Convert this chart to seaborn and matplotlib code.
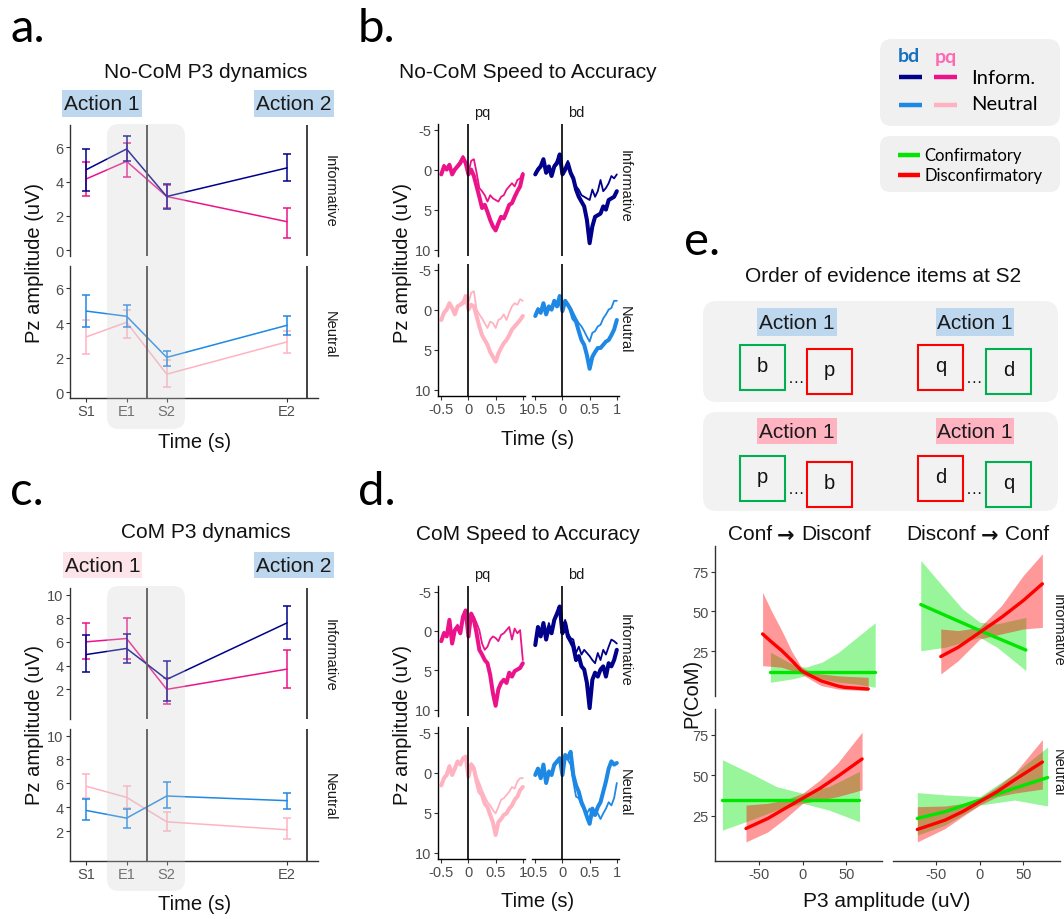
import numpy as np
import matplotlib
matplotlib.use("Agg")
import matplotlib.pyplot as plt
import seaborn as sns
from matplotlib.patches import FancyBboxPatch, Rectangle

sns.set_style("ticks")
plt.rcParams['font.family'] = ['Liberation Sans', 'DejaVu Sans']
plt.rcParams['axes.unicode_minus'] = False
CAL = ['Lato', 'DejaVu Sans']

# ---------------- data ----------------
stage_x = [0, 1, 2, 5]
stage_labels = ['S1', 'E1', 'S2', 'E2']

# a. No-CoM P3 dynamics (mean, lower, upper)
a_inf_bd = [4.70, 5.90, 3.13, 4.80]; a_inf_bd_lo = [3.48, 5.18, 2.38, 4.06]; a_inf_bd_hi = [5.90, 6.63, 3.85, 5.60]
a_inf_pq = [4.16, 5.18, 3.13, 1.66]; a_inf_pq_lo = [3.15, 4.26, 2.46, 0.73]; a_inf_pq_hi = [5.14, 6.25, 3.81, 2.48]
a_neu_bd = [4.69, 4.39, 2.01, 3.87]; a_neu_bd_lo = [3.75, 3.75, 1.52, 3.28]; a_neu_bd_hi = [5.63, 5.04, 2.38, 4.43]
a_neu_pq = [3.20, 4.04, 1.04, 2.91]; a_neu_pq_lo = [2.20, 3.12, 0.29, 2.29]; a_neu_pq_hi = [4.20, 4.75, 1.85, 3.55]

# c. CoM P3 dynamics
c_inf_bd = [4.94, 5.45, 2.84, 7.61]; c_inf_bd_lo = [3.46, 4.21, 1.00, 6.29]; c_inf_bd_hi = [6.57, 6.66, 4.38, 9.07]
c_inf_pq = [6.01, 6.29, 2.00, 3.71]; c_inf_pq_lo = [4.52, 4.52, 0.79, 2.11]; c_inf_pq_hi = [7.58, 8.00, 3.00, 5.31]
c_neu_bd = [3.73, 3.09, 4.94, 4.55]; c_neu_bd_lo = [2.92, 2.25, 3.90, 3.85]; c_neu_bd_hi = [4.66, 3.85, 6.08, 5.16]
c_neu_pq = [5.75, 4.83, 2.78, 2.11]; c_neu_pq_lo = [4.77, 3.90, 2.00, 1.33]; c_neu_pq_hi = [6.78, 5.75, 3.60, 3.06]

# b./d. ERP traces (time in s, amplitude in uV)
T = [-0.5, -0.45, -0.4, -0.35, -0.3, -0.25, -0.2, -0.15, -0.1, -0.05, 0.0, 0.05, 0.1, 0.15, 0.2,
     0.25, 0.3, 0.35, 0.4, 0.45, 0.5, 0.55, 0.6, 0.65, 0.7, 0.75, 0.8, 0.85, 0.9, 0.95, 1.0]

b_inf_pq_thick = [0.6, -0.4, 0, -0.6, 0.6, 0, -0.4, -0.8, -1.5, -0.8, 0.6, 0, 0.8, 2.1, 3.4, 4.8, 4.4, 5.3, 6.3, 7.1, 7.6, 6.7, 5.9, 6.1, 5.3, 4.4, 4.2, 3.4, 2.7, 2.1, 0.6]
b_inf_pq_thin = [0.4, -0.6, -0.2, -0.4, 0.4, -0.2, -0.6, -1.1, -1.7, -0.6, 0.4, -1.1, -1.3, 0.4, 2.3, 2.7, 3.2, 4.0, 3.2, 3.6, 3.8, 4.0, 3.4, 3.2, 2.5, 2.1, 1.7, 2.1, 1.3, 1.1, 0.4]
b_inf_bd_thick = [0.6, 0, -0.4, -1.3, 0.4, -0.4, 0.8, -0.4, -0.8, -1.9, 0.6, 0, -0.8, 0.4, 1.1, 2.5, 3.4, 4.0, 4.6, 6.3, 9.2, 7.1, 5.9, 5.7, 5.5, 4.6, 5.0, 3.8, 3.6, 3.4, 2.7]
b_inf_bd_thin = [0.4, -0.2, -0.6, -1.1, 0.2, -0.2, 0.6, -0.6, -1.1, -1.7, 0.4, -0.2, -1.1, 0.6, 1.3, 2.1, 2.5, 3.2, 3.4, 3.6, 3.8, 2.5, 3.4, 2.7, 1.3, 2.7, 2.3, 1.7, 0.8, 1.1, 0.6]
b_neu_pq_thick = [1.3, 0.4, 0, -0.8, -0.2, 0.6, -0.4, -0.6, -0.8, -1.7, 0, -0.6, -0.4, 0.8, 2.1, 3.2, 3.8, 4.4, 5.3, 5.9, 6.5, 5.5, 4.8, 4.2, 3.8, 3.2, 2.5, 2.1, 1.7, 1.3, 0.8]
b_neu_pq_thin = [1.1, 0.2, -0.2, -0.6, -0.4, 0.4, -0.2, -0.8, -1.1, -1.5, -0.8, -2.1, -2.3, 0, 0.6, 1.1, 1.7, 2.3, 1.5, 1.7, 2.3, 1.3, 1.1, 0.6, 1.3, 0.4, -0.4, -0.8, -0.6, -1.3, -1.1]
b_neu_bd_thick = [0.8, 0, 0.4, -0.8, 0.6, -0.4, 0, -1.1, -0.4, -1.7, 0.2, -1.1, -0.6, 0, 1.1, 1.5, 2.7, 3.8, 4.4, 5.7, 7.4, 5.9, 5.3, 4.8, 4.8, 4.4, 4.0, 3.8, 3.2, 2.5, 1.3]
b_neu_bd_thin = [0.6, -0.2, 0.2, -0.6, 0.4, -0.2, -0.2, -0.8, -0.6, -1.5, 0, -0.8, -0.4, -0.2, 0.4, 1.1, 1.7, 2.1, 2.7, 3.4, 4.0, 2.9, 2.7, 2.1, 1.9, 1.1, 0.6, 0, -0.2, -1.1, -1.1]

d_inf_pq_thick = [1.3, 0.3, 0.7, -1.4, 1.6, -0.1, -0.5, 0.3, -1.8, -2.6, 0.7, -2.2, -1.4, 0.3, 2.4, 3.0, 3.7, 4.1, 5.6, 7.9, 9.5, 7.4, 6.6, 6.2, 6.6, 5.3, 5.8, 5.1, 4.9, 4.7, 4.1]
d_inf_pq_thin = [1.1, 0.1, 0.5, -1.2, 1.3, -0.3, -0.8, 0.1, -1.6, -2.4, 0.3, -2.0, -1.8, -1.0, -0.1, 1.6, 2.4, 2.0, 1.1, 0.7, 0.9, 1.3, 0.5, 0.3, -0.1, -0.5, 1.1, -0.3, 0.3, -0.1, 3.7]
d_inf_bd_thick = [1.8, -0.5, 0.7, -1.0, 1.1, -0.5, 0.3, -1.4, -2.2, -3.1, 0.3, -1.0, 0.7, 1.3, 2.0, 3.7, 3.2, 4.5, 4.9, 6.6, 9.8, 6.2, 5.3, 5.8, 4.9, 4.5, 5.8, 4.1, 4.5, 3.7, 2.4]
d_inf_bd_thin = [1.6, -0.1, 0.3, -0.8, 0.9, -1.0, 0.1, -1.2, -2.0, -2.6, -0.1, -1.4, 0.3, 0.9, 1.1, 2.8, 2.0, 3.0, 2.4, 2.8, 3.2, 3.7, 4.1, 2.8, 3.7, 2.4, 3.0, 2.0, 1.1, 1.3, 1.6]
d_neu_pq_thick = [1.6, 0.7, 0.3, -0.8, 0.3, -0.5, -1.4, -1.0, -1.8, -2.0, 0.5, -1.0, -0.5, 1.1, 2.4, 2.8, 3.9, 4.3, 5.3, 6.2, 7.8, 6.2, 5.8, 5.3, 5.1, 4.5, 4.1, 3.4, 3.0, 2.2, 1.8]
d_neu_pq_thin = [1.3, 0.5, 0.1, -0.5, 0.1, -0.8, -1.2, -1.2, -1.6, -1.8, 0.3, -1.2, -0.8, 0.5, 1.3, 2.2, 3.0, 3.7, 4.1, 4.7, 5.1, 4.3, 3.4, 3.2, 2.8, 2.4, 1.8, 2.0, 1.1, 0.7, 0.7]
d_neu_bd_thick = [0.3, -0.5, 0.7, -1.0, 1.3, -0.1, 0.3, -1.0, -1.4, -1.8, 0.3, -2.2, -1.8, -2.6, 0.3, 1.6, 2.4, 3.7, 4.5, 5.5, 6.4, 4.5, 5.3, 4.3, 3.7, 2.4, 1.1, -0.5, -1.4, -1.0, -1.2]
d_neu_bd_thin = [0.1, -0.3, 0.5, -0.8, 1.1, -0.3, 0.1, -0.8, -1.2, -1.6, 0.1, -1.8, -1.6, -1.0, 1.1, 3.0, 3.2, 4.1, 4.5, 5.1, 4.5, 5.5, 4.7, 5.1, 5.8, 5.1, 4.5, 3.7, 4.1, 3.2, 1.3]

# e. P(CoM) vs P3 amplitude: (x, fit, lower, upper)
e_tl_green = ([-37, -12, 3, 22, 41, 60, 83], [11.8, 11.8, 11.8, 11.8, 11.8, 11.8, 11.8],
              [5.6, 7.7, 9.7, 7.7, 5.6, 4.6, 2.5], [24.4, 17.0, 15.0, 18.2, 24.4, 32.8, 42.9])
e_tl_red = ([-46, -36, -24, -13, -1.5, 10, 21, 40, 48, 75], [35.9, 31.0, 25.4, 19.5, 12.8, 9.5, 6.5, 3.3, 2.4, 1.4],
            [16.0, 15.6, 15.0, 13.0, 10.8, 7.0, 3.5, 1.4, 1.0, 0.4], [62.0, 50.5, 38.0, 25.4, 15.0, 11.8, 10.8, 9.7, 9.4, 8.7])
e_tr_green = ([-68, -40, -20, 0, 20, 53], [54.3, 47.6, 42.8, 38.0, 33.4, 25.8],
              [25.4, 27.5, 30.6, 33.8, 27.5, 12.9], [81.9, 64.1, 51.6, 43.2, 42.2, 46.3])
e_tr_red = ([-45, -25, 0, 25, 50, 72], [21.7, 27.5, 36.9, 46.3, 56.8, 67.3],
            [10.8, 19.1, 32.7, 35.9, 39.0, 40.0], [39.0, 38.0, 40.0, 53.7, 72.5, 86.1])
e_bl_green = ([-92, -60, -30, 0, 30, 65], [34.7, 34.7, 34.7, 34.7, 34.7, 34.7],
              [16.1, 22.3, 28.5, 32.7, 28.5, 21.3], [59.6, 51.3, 43.0, 38.9, 43.0, 52.4])
e_bl_red = ([-65, -40, -20, 0, 20, 40, 68], [17.1, 23.3, 29.6, 35.8, 42.0, 49.3, 60.1],
            [8.8, 15.0, 23.3, 32.7, 34.7, 36.8, 41.0], [31.6, 32.7, 34.7, 38.9, 47.2, 57.6, 76.7])
e_br_green = ([-72, -40, 0, 40, 78], [23.3, 27.5, 34.7, 42.0, 48.6],
              [13.0, 19.2, 31.6, 34.7, 31.0], [39.3, 37.9, 36.8, 51.3, 67.5])
e_br_red = ([-72, -40, -20, 0, 20, 40, 72], [16.5, 22.3, 27.5, 33.7, 39.9, 47.2, 58.2],
            [8.8, 17.1, 24.5, 31.6, 36.8, 39.0, 41.5], [30.6, 31.0, 32.5, 36.0, 43.0, 51.3, 72.1])

# ---------------- style ----------------
NAVY = "#00008B"; MAGENTA = "#EC138A"; LBLUE = "#1E88E5"; LPINK = "#FFB3C1"
GREEN = "#00E600"; RED = "#FF0000"
BLUEBOX = "#BDD7EE"; PINKBOX_C = "#FDE4EA"; PINKBOX_E = "#FFB3C1"

W, H = 1064, 920
fig = plt.figure(figsize=(W / 100, H / 100), dpi=100)


def add_ax(x0, y0, x1, y1):
    ax = fig.add_axes([x0 / W, 1 - y1 / H, (x1 - x0) / W, (y1 - y0) / H])
    ax.patch.set_alpha(0)
    ax.spines['top'].set_visible(False)
    ax.spines['right'].set_visible(False)
    return ax


def style(ax, left, bottom, spine_color='black'):
    for s in ('left', 'bottom'):
        ax.spines[s].set_color(spine_color)
        ax.spines[s].set_linewidth(1.0)
    ax.spines['left'].set_visible(left)
    ax.spines['bottom'].set_visible(bottom)
    ax.tick_params(direction='out', length=3, width=0.8, colors='#333333',
                   labelcolor='#4D4D4D', labelsize=10.5, pad=1.5)
    ax.tick_params(axis='y', left=left, labelleft=left)
    ax.tick_params(axis='x', bottom=bottom, labelbottom=bottom)
    ax.set_xlabel('')
    ax.set_ylabel('')


def dynamics(facets, ylim, yticks):
    for (y0, y1, series, is_bottom) in facets:
        ax = add_ax(70, y0, 318, y1)
        for vals, lo, hi, col in series:
            sns.lineplot(x=stage_x, y=vals, ax=ax, color=col, linewidth=1.1, estimator=None)
            v, l, h = np.array(vals), np.array(lo), np.array(hi)
            ax.errorbar(stage_x, v, yerr=[v - l, h - v], fmt='none', ecolor=col,
                        elinewidth=1.1, capsize=3, capthick=1.1)
        ax.axvline(1.5, color='#333333', lw=1.3)
        ax.axvline(5.5, color='#333333', lw=1.3)
        ax.set_xlim(-0.41, 5.77)
        ax.set_ylim(*ylim)
        ax.set_yticks(yticks)
        ax.set_xticks(stage_x)
        ax.set_xticklabels(stage_labels)
        style(ax, True, is_bottom, '#333333')


def traces(rows, data):
    cols = [(438, 525), (532, 619)]
    for r, (y0, y1) in enumerate(rows):
        for c, (x0, x1) in enumerate(cols):
            ax = add_ax(x0, y0, x1, y1)
            thick, thin, col = data[r][c]
            sns.lineplot(x=T, y=thin, ax=ax, color=col, linewidth=1.3, estimator=None, sort=False)
            sns.lineplot(x=T, y=thick, ax=ax, color=col, linewidth=2.9, estimator=None, sort=False)
            ax.axvline(0, color='black', lw=1.2)
            ax.set_xlim(-0.56, 1.04)
            ax.set_ylim(10.8, -5.7)
            ax.set_yticks([-5, 0, 5, 10])
            ax.set_xticks([-0.5, 0, 0.5, 1])
            ax.set_xticklabels(['-0.5', '0', '0.5', '1'])
            style(ax, c == 0, r == 1)


def eplot(x0, y0, x1, y1, green, red, left, bottom, xlim):
    ax = add_ax(x0, y0, x1, y1)
    gx, gy, glo, ghi = green
    rx, ry, rlo, rhi = red
    ax.fill_between(gx, glo, ghi, color=GREEN, alpha=0.4, lw=0)
    sns.lineplot(x=gx, y=gy, ax=ax, color=GREEN, linewidth=2.4, estimator=None)
    ax.fill_between(rx, rlo, rhi, color=RED, alpha=0.4, lw=0)
    sns.lineplot(x=rx, y=ry, ax=ax, color=RED, linewidth=2.4, estimator=None)
    ax.set_xlim(*xlim)
    ax.set_ylim(-3, 91)
    ax.set_yticks([25, 50, 75])
    ax.set_xticks([-50, 0, 50])
    style(ax, left, bottom, '#333333')


# ---- panel a ----
dynamics([(126, 257, [(a_inf_pq, a_inf_pq_lo, a_inf_pq_hi, MAGENTA), (a_inf_bd, a_inf_bd_lo, a_inf_bd_hi, NAVY)], False),
          (267, 399, [(a_neu_pq, a_neu_pq_lo, a_neu_pq_hi, LPINK), (a_neu_bd, a_neu_bd_lo, a_neu_bd_hi, LBLUE)], True)],
         (-0.34, 7.3), [0, 2, 4, 6])
# ---- panel c ----
dynamics([(589, 720, [(c_inf_pq, c_inf_pq_lo, c_inf_pq_hi, MAGENTA), (c_inf_bd, c_inf_bd_lo, c_inf_bd_hi, NAVY)], False),
          (730, 862, [(c_neu_pq, c_neu_pq_lo, c_neu_pq_hi, LPINK), (c_neu_bd, c_neu_bd_lo, c_neu_bd_hi, LBLUE)], True)],
         (-0.5, 10.55), [2, 4, 6, 8, 10])
# ---- panel b ----
traces([(125, 257), (265, 397)],
       [[(b_inf_pq_thick, b_inf_pq_thin, MAGENTA), (b_inf_bd_thick, b_inf_bd_thin, NAVY)],
        [(b_neu_pq_thick, b_neu_pq_thin, LPINK), (b_neu_bd_thick, b_neu_bd_thin, LBLUE)]])
# ---- panel d ----
traces([(587, 717), (728, 860)],
       [[(d_inf_pq_thick, d_inf_pq_thin, MAGENTA), (d_inf_bd_thick, d_inf_bd_thin, NAVY)],
        [(d_neu_pq_thick, d_neu_pq_thin, LPINK), (d_neu_bd_thick, d_neu_bd_thin, LBLUE)]])
# ---- panel e plots ----
eplot(715, 547, 882, 697, e_tl_green, e_tl_red, True, False, (-100.5, 90.8))
eplot(893, 547, 1060, 697, e_tr_green, e_tr_red, False, False, (-100, 92.3))
eplot(715, 710, 882, 862, e_bl_green, e_bl_red, True, True, (-100.5, 90.8))
eplot(893, 710, 1060, 862, e_br_green, e_br_red, False, True, (-100, 92.3))

# ---------------- overlay (pixel coordinates) ----------------
ov = fig.add_axes([0, 0, 1, 1], zorder=10)
ov.set_xlim(0, W)
ov.set_ylim(H, 0)
ov.axis('off')
ov.patch.set_alpha(0)


def rbox(x0, y0, x1, y1, color, r=12, alpha=1.0):
    ov.add_patch(FancyBboxPatch((x0, y0), x1 - x0, y1 - y0,
                                boxstyle=f"round,pad=0,rounding_size={r}",
                                fc=color, ec='none', alpha=alpha))


def txt(x, y, s, size=15, **kw):
    kw.setdefault('ha', 'center')
    kw.setdefault('va', 'center')
    kw.setdefault('color', '#111111')
    ov.text(x, y, s, fontsize=size, **kw)


def label_box(x0, y0, x1, y1, color, s):
    ov.add_patch(Rectangle((x0, y0), x1 - x0, y1 - y0, fc=color, ec='none'))
    txt((x0 + x1) / 2, (y0 + y1) / 2 + 0.5, s, 15, color='#1A1A1A')


# panel letters
for x, y, s in [(10, 42, 'a.'), (358, 42, 'b.'), (10, 505, 'c.'), (358, 505, 'd.'), (684, 255, 'e.')]:
    ov.text(x, y, s, fontsize=34, family=CAL, ha='left', va='baseline', color='black')

# a / c headers
txt(206, 72, 'No-CoM P3 dynamics')
label_box(62, 91, 142, 118, BLUEBOX, 'Action 1')
label_box(254, 91, 334, 118, BLUEBOX, 'Action 2')
txt(206, 533, 'CoM P3 dynamics')
label_box(63, 553, 142, 579, PINKBOX_C, 'Action 1')
label_box(254, 553, 334, 579, BLUEBOX, 'Action 2')
for yc in (263, 725):
    txt(35, yc, 'Pz amplitude (uV)', 14.5, rotation=90)
txt(195, 443, 'Time (s)', 14.5)
txt(195, 905, 'Time (s)', 14.5)
for y, s in [(191, 'Informative'), (335, 'Neutral'), (655, 'Informative'), (797, 'Neutral')]:
    txt(330, y, s, 10.5, rotation=-90, color='#1A1A1A')
# grey time-window overlays
rbox(107, 125, 185, 430, '#CFCFCF', r=12, alpha=0.28)
rbox(107, 587, 185, 892, '#CFCFCF', r=12, alpha=0.28)

# b / d headers
txt(528, 72, 'No-CoM Speed to Accuracy')
txt(528, 535, 'CoM Speed to Accuracy')
for y in (113, 575):
    txt(482, y, 'pq', 10.5, color='#1A1A1A')
    txt(576, y, 'bd', 10.5, color='#1A1A1A')
for yc in (263, 725):
    txt(402, yc, 'Pz amplitude (uV)', 14.5, rotation=90)
txt(538, 440, 'Time (s)', 14.5)
txt(538, 902, 'Time (s)', 14.5)
for y, s in [(186, 'Informative'), (330, 'Neutral'), (650, 'Informative'), (793, 'Neutral')]:
    txt(625, y, s, 10.5, rotation=-90, color='#1A1A1A')

# legend boxes
rbox(880, 40, 1060, 127, '#F0F0F0', r=12)
rbox(880, 137, 1060, 193, '#F0F0F0', r=10)
ov.text(909, 57, 'bd', fontsize=14, family=CAL, fontweight='bold', color='#1570BE', ha='center', va='center')
ov.text(946, 57, 'pq', fontsize=14, family=CAL, fontweight='bold', color='#FF69B4', ha='center', va='center')
ov.plot([899, 922], [78, 78], color=NAVY, lw=3.2, solid_capstyle='butt')
ov.plot([934, 957], [78, 78], color=MAGENTA, lw=3.2, solid_capstyle='butt')
ov.plot([899, 922], [106, 106], color=LBLUE, lw=3.2, solid_capstyle='butt')
ov.plot([934, 957], [106, 106], color=LPINK, lw=3.2, solid_capstyle='butt')
ov.text(971, 78, 'Inform.', fontsize=14.5, family=CAL, ha='left', va='center', color='black')
ov.text(971, 105, 'Neutral', fontsize=14.5, family=CAL, ha='left', va='center', color='black')
ov.plot([898, 920], [156, 156], color=GREEN, lw=3.2, solid_capstyle='butt')
ov.plot([898, 920], [176, 176], color=RED, lw=3.2, solid_capstyle='butt')
ov.text(924, 156, 'Confirmatory', fontsize=12, family=CAL, ha='left', va='center', color='black')
ov.text(924, 176, 'Disconfirmatory', fontsize=12, family=CAL, ha='left', va='center', color='black')

# panel e schematic
txt(883, 277, 'Order of evidence items at S2')
rbox(703, 302, 1058, 403, '#F2F2F2', r=14)
rbox(703, 413, 1058, 512, '#F2F2F2', r=14)
label_box(757, 309, 837, 337, BLUEBOX, 'Action 1')
label_box(936, 309, 1014, 337, BLUEBOX, 'Action 1')
label_box(757, 419, 837, 445, PINKBOX_E, 'Action 1')
label_box(936, 419, 1014, 445, PINKBOX_E, 'Action 1')
SQG, SQR = '#00B050', '#FF0000'
squares = [(740, 346, SQG, 'b'), (807, 350, SQR, 'p'), (918, 346, SQR, 'q'), (986, 350, SQG, 'd'),
           (740, 457, SQG, 'p'), (807, 463, SQR, 'b'), (918, 457, SQR, 'd'), (986, 463, SQG, 'q')]
for x, y, c, s in squares:
    ov.add_patch(Rectangle((x, y), 45, 45, fc='none', ec=c, lw=1.5))
    txt(x + 22.5, y + 21, s, 14.5, color='#111111')
for y in (379, 490):
    txt(796, y, '…', 12)
    txt(974, y, '…', 12)

# panel e labels (column strips with a bold arrow)
for xa, left_s, right_s in [(786, 'Conf', 'Disconf'), (990, 'Disconf', 'Conf')]:
    txt(xa - 14, 535, left_s, 15, ha='right')
    txt(xa, 536, '→', 15, family=['DejaVu Sans'], fontweight='bold')
    txt(xa + 15, 535, right_s, 15, ha='left')
txt(692, 693, 'P(CoM)', 14.5, rotation=90)
txt(887, 902, 'P3 amplitude (uV)', 15)
txt(1058, 630, 'Informative', 10.5, rotation=-90, color='#1A1A1A')
txt(1058, 773, 'Neutral', 10.5, rotation=-90, color='#1A1A1A')

fig.savefig('out.png', dpi=100, facecolor='white')
